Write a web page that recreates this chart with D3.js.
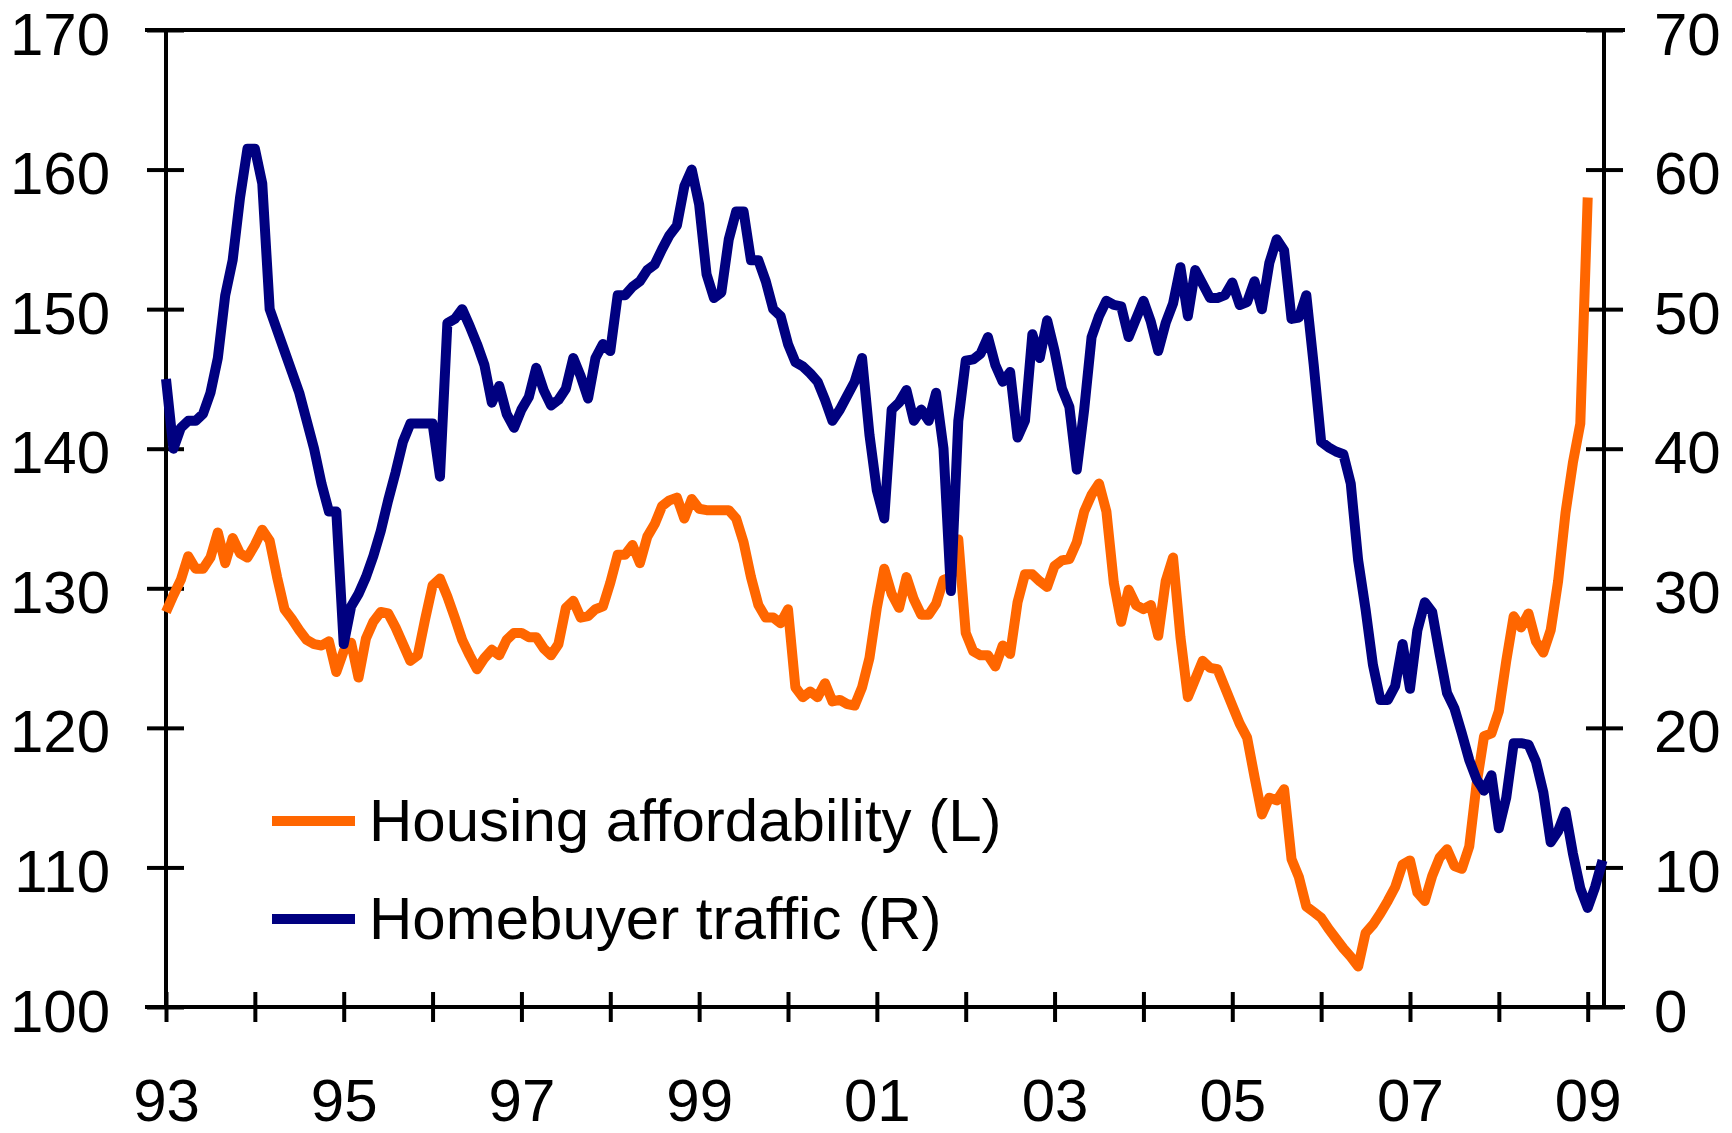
<!DOCTYPE html>
<html>
<head>
<meta charset="utf-8">
<script src="https://cdn.jsdelivr.net/npm/d3@7"></script>
<style>
html, body { margin: 0; padding: 0; background: #ffffff; }
svg { display: block; }
text { font-family: "Liberation Sans", Arial, sans-serif; fill: #000; }
</style>
</head>
<body>
<svg id="chart" width="1732" height="1133"></svg>
<script>
// Monthly observations, first value = January 1993
const startYear = 1993;

// Housing affordability index (left axis)
const affordability = [
  128.3, 129.5, 130.6, 132.3, 131.4, 131.4, 132.2, 134.0, 131.8, 133.6, 132.5, 132.2, // 1993
  133.1, 134.2, 133.4, 130.8, 128.5, 127.8, 127.0, 126.3, 126.0, 125.9, 126.2, 124.0, // 1994
  125.5, 126.1, 123.6, 126.4, 127.6, 128.3, 128.2, 127.2, 126.0, 124.8, 125.2, 127.8, // 1995
  130.2, 130.7, 129.4, 127.9, 126.3, 125.2, 124.2, 125.0, 125.6, 125.2, 126.3, 126.8, // 1996
  126.8, 126.5, 126.5, 125.7, 125.2, 126.0, 128.6, 129.1, 127.9, 128.0, 128.5, 128.7, // 1997
  130.4, 132.4, 132.4, 133.1, 131.8, 133.7, 134.6, 135.9, 136.3, 136.5, 135.0, 136.4, // 1998
  135.7, 135.6, 135.6, 135.6, 135.6, 135.0, 133.3, 130.8, 128.8, 127.9, 127.9, 127.5, // 1999
  128.5, 122.9, 122.2, 122.6, 122.2, 123.2, 121.9, 122.0, 121.7, 121.6, 122.9, 125.0, // 2000
  128.6, 131.4, 129.6, 128.6, 130.8, 129.2, 128.1, 128.1, 128.9, 130.6, 130.8, 133.5, // 2001
  126.8, 125.5, 125.2, 125.2, 124.4, 125.9, 125.3, 129.0, 131.0, 131.0, 130.5, 130.1, // 2002
  131.6, 132.0, 132.1, 133.3, 135.5, 136.7, 137.5, 135.5, 130.4, 127.6, 129.9, 128.8, // 2003
  128.5, 128.8, 126.6, 130.5, 132.2, 126.5, 122.2, 123.5, 124.8, 124.3, 124.2, 122.9, // 2004
  121.6, 120.3, 119.3, 116.5, 113.8, 115.0, 114.8, 115.6, 110.6, 109.3, 107.2, 106.8, // 2005
  106.4, 105.6, 104.9, 104.2, 103.6, 102.9, 105.3, 105.9, 106.7, 107.6, 108.6, 110.2, // 2006
  110.5, 108.2, 107.6, 109.4, 110.7, 111.3, 110.1, 109.9, 111.5, 116.0, 119.4, 119.6, // 2007
  121.2, 124.8, 128.0, 127.2, 128.2, 126.2, 125.4, 127.0, 130.5, 135.4, 139.0, 141.8, // 2008
  158.0                                                                                // 2009
];

// Homebuyer traffic index (right axis)
const traffic = [
  45.0, 40.0, 41.5, 42.0, 42.0, 42.5, 44.0, 46.5, 51.0, 53.5, 58.0, 61.5, // 1993
  61.5, 59.0, 50.0, 48.5, 47.0, 45.5, 44.0, 42.0, 40.0, 37.5, 35.5, 35.5, // 1994
  26.0, 28.7, 29.6, 30.8, 32.3, 34.1, 36.3, 38.3, 40.5, 41.8, 41.8, 41.8, // 1995
  41.8, 38.0, 49.0, 49.3, 50.0, 48.8, 47.5, 46.0, 43.3, 44.5, 42.5, 41.5, // 1996
  42.8, 43.7, 45.8, 44.2, 43.1, 43.5, 44.3, 46.5, 45.2, 43.6, 46.5, 47.5, // 1997
  47.0, 51.0, 51.0, 51.6, 52.0, 52.8, 53.2, 54.3, 55.3, 56.0, 58.8, 60.0, // 1998
  57.5, 52.5, 50.8, 51.2, 55.0, 57.0, 57.0, 53.5, 53.5, 52.0, 50.0, 49.5, // 1999
  47.5, 46.2, 45.9, 45.4, 44.8, 43.5, 42.0, 42.8, 43.8, 44.8, 46.5, 41.0, // 2000
  37.0, 35.0, 42.8, 43.3, 44.2, 42.0, 42.8, 42.0, 44.0, 40.0, 29.8, 42.0, // 2001
  46.3, 46.4, 46.8, 48.0, 46.0, 44.8, 45.5, 40.8, 42.0, 48.2, 46.5, 49.2, // 2002
  47.0, 44.3, 43.0, 38.5, 42.8, 48.0, 49.5, 50.6, 50.3, 50.2, 48.0, 49.3, // 2003
  50.6, 49.1, 47.0, 49.0, 50.4, 53.0, 49.5, 52.8, 51.8, 50.8, 50.8, 51.0, // 2004
  51.9, 50.3, 50.5, 52.0, 50.0, 53.3, 55.0, 54.2, 49.3, 49.4, 51.0, 46.0, // 2005
  40.5, 40.1, 39.8, 39.6, 37.5, 32.0, 28.5, 24.5, 22.0, 22.0, 23.0, 26.0, // 2006
  22.8, 27.0, 29.0, 28.3, 25.3, 22.5, 21.4, 19.6, 17.7, 16.3, 15.5, 16.6, // 2007
  12.8, 15.0, 18.9, 18.9, 18.8, 17.6, 15.4, 11.8, 12.6, 14.0, 11.0, 8.5,  // 2008
  7.1, 8.6, 10.5                                                          // 2009
];

const leftTicks = [100, 110, 120, 130, 140, 150, 160, 170];
const rightTicks = [0, 10, 20, 30, 40, 50, 60, 70];
const yearTicks = [1993, 1994, 1995, 1996, 1997, 1998, 1999, 2000, 2001, 2002, 2003, 2004, 2005, 2006, 2007, 2008, 2009];
const yearLabels = {1993: "93", 1995: "95", 1997: "97", 1999: "99", 2001: "01", 2003: "03", 2005: "05", 2007: "07", 2009: "09"};
const seriesNames = ["Housing affordability (L)", "Homebuyer traffic (R)"];
const seriesColors = ["#FF6600", "#000080"];

const svg = d3.select("#chart");
const W = 1732, H = 1133;
svg.append("rect").attr("width", W).attr("height", H).attr("fill", "#fff");

const plot = { left: 166, right: 1604, top: 30, bottom: 1007 };

const x = d3.scaleLinear().domain([1993, 2009 + 2.2 / 12]).range([plot.left, plot.right]);
const yL = d3.scaleLinear().domain([100, 170]).range([plot.bottom, plot.top]);
const yR = d3.scaleLinear().domain([0, 70]).range([plot.bottom, plot.top]);

const tAt = i => startYear + i / 12;

const FONT = 60;
const AX = 4;

// frame lines
const frame = svg.append("g").attr("stroke", "#000").attr("stroke-width", AX);
frame.append("line").attr("x1", 145).attr("x2", 1625).attr("y1", plot.top).attr("y2", plot.top);
frame.append("line").attr("x1", 145).attr("x2", 1625).attr("y1", plot.bottom).attr("y2", plot.bottom);
frame.append("line").attr("x1", plot.left).attr("x2", plot.left).attr("y1", plot.top).attr("y2", plot.bottom);
frame.append("line").attr("x1", plot.right).attr("x2", plot.right).attr("y1", plot.top).attr("y2", plot.bottom);

function styleAxis(g) {
  g.select(".domain").remove();
  g.selectAll(".tick line").attr("stroke", "#000").attr("stroke-width", AX);
  g.selectAll(".tick text").attr("font-size", FONT).attr("fill", "#000")
    .style("font-family", '"Liberation Sans", Arial, sans-serif');
}

// left axis (ticks crossing the axis line)
svg.append("g").attr("transform", `translate(${plot.left},0)`)
  .call(d3.axisLeft(yL).tickValues(leftTicks).tickSize(19).tickPadding(37).tickFormat(d3.format("d")))
  .call(styleAxis)
  .call(g => g.selectAll(".tick text").attr("dy", "0.40em"));
svg.append("g").attr("transform", `translate(${plot.left},0)`)
  .call(d3.axisRight(yL).tickValues(leftTicks).tickSize(18).tickFormat(""))
  .call(styleAxis);

// right axis
svg.append("g").attr("transform", `translate(${plot.right},0)`)
  .call(d3.axisRight(yR).tickValues(rightTicks).tickSize(19).tickPadding(31).tickFormat(d3.format("d")))
  .call(styleAxis)
  .call(g => g.selectAll(".tick text").attr("dy", "0.40em"));
svg.append("g").attr("transform", `translate(${plot.right},0)`)
  .call(d3.axisLeft(yR).tickValues(rightTicks).tickSize(18).tickFormat(""))
  .call(styleAxis);

// bottom axis
svg.append("g").attr("transform", `translate(0,${plot.bottom})`)
  .call(d3.axisBottom(x).tickValues(yearTicks).tickSize(15).tickPadding(56).tickFormat(d => yearLabels[d] || ""))
  .call(styleAxis);
svg.append("g").attr("transform", `translate(0,${plot.bottom})`)
  .call(d3.axisTop(x).tickValues(yearTicks).tickSize(15).tickFormat(""))
  .call(styleAxis);

// series lines
const lineL = d3.line().x((d, i) => x(tAt(i))).y(d => yL(d));
const lineR = d3.line().x((d, i) => x(tAt(i))).y(d => yR(d));

svg.append("path").datum(affordability)
  .attr("d", lineL).attr("fill", "none")
  .attr("stroke", seriesColors[0]).attr("stroke-width", 10)
  .attr("stroke-linejoin", "round");

svg.append("path").datum(traffic)
  .attr("d", lineR).attr("fill", "none")
  .attr("stroke", seriesColors[1]).attr("stroke-width", 10)
  .attr("stroke-linejoin", "round");

// legend
const legend = svg.append("g");
const legY = [821, 919];
seriesNames.forEach((name, k) => {
  legend.append("line").attr("x1", 272).attr("x2", 355)
    .attr("y1", legY[k]).attr("y2", legY[k])
    .attr("stroke", seriesColors[k]).attr("stroke-width", 10);
  legend.append("text").attr("x", 369).attr("y", legY[k] + 20)
    .attr("font-size", FONT).text(name);
});
</script>
</body>
</html>
